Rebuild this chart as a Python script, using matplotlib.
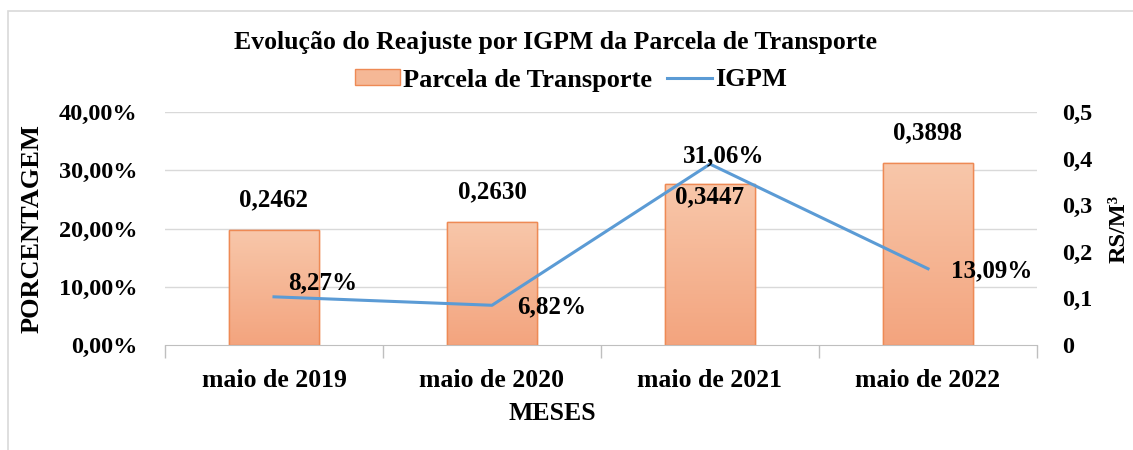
import matplotlib
matplotlib.use("Agg")
import matplotlib.pyplot as plt
import numpy as np
from matplotlib.patches import Rectangle
from matplotlib.lines import Line2D
from matplotlib.colors import LinearSegmentedColormap

categorias = ["maio de 2019", "maio de 2020", "maio de 2021", "maio de 2022"]
parcela = [0.2462, 0.2630, 0.3447, 0.3898]
igpm = [8.27, 6.82, 31.06, 13.09]
parcela_labels = ["0,2462", "0,2630", "0,3447", "0,3898"]
igpm_labels = ["8,27%", "6,82%", "31,06%", "13,09%"]
left_ticks = [0, 10, 20, 30, 40]
left_ticklabels = ["0,00%", "10,00%", "20,00%", "30,00%", "40,00%"]
right_ticks = [0, 0.1, 0.2, 0.3, 0.4, 0.5]
right_ticklabels = ["0", "0,1", "0,2", "0,3", "0,4", "0,5"]

plt.rcParams['font.family'] = ['Liberation Serif', 'DejaVu Serif']
plt.rcParams['font.weight'] = 'bold'
plt.rcParams['axes.labelweight'] = 'bold'

W, H = 1133, 450
fig = plt.figure(figsize=(W/100, H/100), dpi=100)

# outer border
fig.patches.append(Rectangle((8/W, -0.1), 1.2, (1 - 11/H) + 0.1, transform=fig.transFigure,
                             fill=False, edgecolor="#D9D9D9", linewidth=1.2))

ax = fig.add_axes([165/W, 1 - 345/H, (1037-165)/W, (345-112)/H])
ax2 = ax.twinx()
ax.set_zorder(ax2.get_zorder() + 1)
ax.patch.set_visible(False)

x = np.arange(len(categorias))

# bars on right axis
bars = ax2.bar(x, parcela, width=0.41, color="#F5B896", edgecolor="#EE8A55", linewidth=1.0, zorder=2)
cmap = LinearSegmentedColormap.from_list("g", ["#F8C7AA", "#F3A47E"])
grad = np.linspace(0, 1, 256).reshape(-1, 1)
for b in bars:
    x0, y0 = b.get_x(), b.get_y()
    x1, y1 = x0 + b.get_width(), y0 + b.get_height()
    im = ax2.imshow(grad, extent=(x0, x1, y0, y1), origin="upper", cmap=cmap, aspect="auto", zorder=2.1)
    im.set_clip_path(b)
    r = Rectangle((x0, y0), b.get_width(), b.get_height(), fill=False, edgecolor="#EE8A55", linewidth=1.0, zorder=2.2)
    ax2.add_patch(r)
ax2.set_ylim(0, 0.5)
ax2.set_yticks(right_ticks)
ax2.set_yticklabels(right_ticklabels)
ax2.tick_params(axis='y', length=0, labelsize=17.5, pad=18)

# line on left axis
ax.plot(x, igpm, color="#5B9BD5", linewidth=2.2, zorder=3)
ax.set_ylim(0, 40)
ax.set_yticks(left_ticks)
ax.set_yticklabels(left_ticklabels)
ax.tick_params(axis='y', length=0, labelsize=17.5, pad=20)
ax.set_xlim(-0.5, 3.5)
ax.set_xticks(x)
ax.set_xticklabels(categorias)
ax.tick_params(axis='x', which='major', length=0, labelsize=18.5, pad=17)
ax.set_xticks(np.arange(-0.5, 4.0, 1.0), minor=True)
ax.tick_params(axis='x', which='minor', length=9, color="#BFBFBF", width=1)

# grid (left axis)
for t in left_ticks[1:]:
    ax2.axhline(t / 40 * 0.5, color="#D9D9D9", linewidth=1.0, zorder=0)

for a in (ax, ax2):
    for s in ("top", "left", "right"):
        a.spines[s].set_visible(False)
    a.spines["bottom"].set_color("#BFBFBF")
ax2.spines["bottom"].set_visible(False)

ax.set_ylabel("PORCENTAGEM", fontsize=19)
ax.yaxis.set_label_coords(-121/872, 0.5)
ax2.set_ylabel("RS/M³", fontsize=17.5)
ax2.yaxis.set_label_coords(1 + 72/872, 0.5)
ax.set_xlabel("MESES", fontsize=18.5)
ax.xaxis.set_label_coords((552-165)/872, -57/233)

# data labels for bars
bar_offsets = [(0, 19), (0, 19), (0, -1), (0, 19)]
for i, (v, lab) in enumerate(zip(parcela, parcela_labels)):
    dx, dy = bar_offsets[i]
    ax2.annotate(lab, (x[i], v), xytext=(dx, dy), textcoords="offset pixels",
                 ha="center", va="bottom" if dy > 0 else "top", fontsize=18, zorder=5)

# data labels for line
line_offsets = [(49, 14), (60, -2), (14, 8), (64, -2)]
for i, (v, lab) in enumerate(zip(igpm, igpm_labels)):
    dx, dy = line_offsets[i]
    ax.annotate(lab, (x[i], v), xytext=(dx, dy), textcoords="offset pixels",
                ha="center", va="center", fontsize=18, zorder=6)

fig.text(556/W, 1 - 42/H, "Evolução do Reajuste por IGPM da Parcela de Transporte",
         ha="center", va="center", fontsize=18.5)

handles = [Rectangle((0, 0), 1, 1, facecolor="#F5B896", edgecolor="#EE8A55"),
           Line2D([0], [0], color="#5B9BD5", linewidth=2.2)]
fig.legend(handles, ["Parcela de Transporte", "IGPM"], loc="center",
           bbox_to_anchor=(571/W, 1 - 80/H), ncol=2, frameon=False, fontsize=19,
           handlelength=1.7, handleheight=0.55, handletextpad=0.12, columnspacing=0.55)

fig.savefig("out.png", dpi=100)
